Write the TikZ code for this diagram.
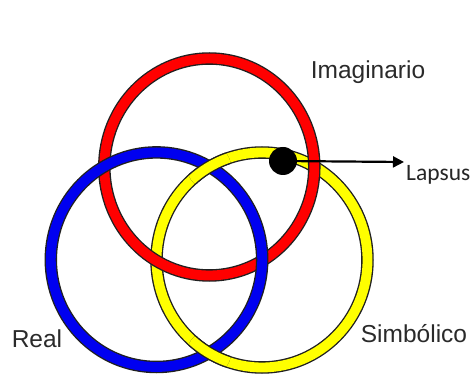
\documentclass[tikz,border=0pt]{standalone}
\usepackage{fontspec}
\setmainfont{Liberation Sans}
\newfontfamily\lapsfont{Carlito}
\usetikzlibrary{arrows.meta}
\definecolor{ringred}{HTML}{FF0000}
\definecolor{ringblue}{HTML}{0000F0}
\definecolor{ringyellow}{HTML}{FFFF00}
\definecolor{ringedge}{HTML}{202020}
\definecolor{labelgray}{HTML}{2A2A2A}
\tikzset{
  ringedgestyle/.style={draw=ringedge, line width=12.5},
  ringband/.style={draw=#1, line width=9.8},
  lbl/.style={text=labelgray, font=\fontsize{24.5}{29}\selectfont, anchor=base, inner sep=0pt},
}
\newcommand\myring[5]{%
  \draw[ringedgestyle] (#2,#3) ellipse [x radius=#4, y radius=#5];
  \draw[ringband=#1] (#2,#3) ellipse [x radius=#4, y radius=#5];}
\begin{document}
\begin{tikzpicture}[x=1pt,y=-1pt]
\useasboundingbox (0,0) rectangle (475,374);
% rings: red over yellow, blue over red, yellow over blue
\myring{ringyellow}{262}{260}{105.5}{107.5}
\myring{ringred}{209.3}{167}{105}{108.5}
\myring{ringblue}{156.5}{259.7}{105.7}{107.3}
\begin{scope}
  \clip (209,167) circle (22);
  \myring{ringyellow}{262}{260}{105.5}{107.5}
\end{scope}
\begin{scope}
  \clip (209,353) circle (22);
  \myring{ringyellow}{262}{260}{105.5}{107.5}
\end{scope}
% lapsus point and arrow
\node[circle, fill=black, minimum size=28pt, inner sep=0pt] (dot) at (283,161) {};
\coordinate (tip) at (404,162);
\draw[line width=2.2pt, -{Triangle[length=11pt, width=11pt]}] (dot.center) -- (tip);
% labels
\node[lbl] (imag) at (368,79) {Imaginario};
\node[lbl] (real) at (37,348) {Real};
\node[lbl] (simb) at (414,343) {Simbólico};
\node[anchor=base west, inner sep=0pt, font=\lapsfont\fontsize{23.5}{28}\selectfont, text=black!85] (laps) at (406,181) {Lapsus};
\end{tikzpicture}
\end{document}
